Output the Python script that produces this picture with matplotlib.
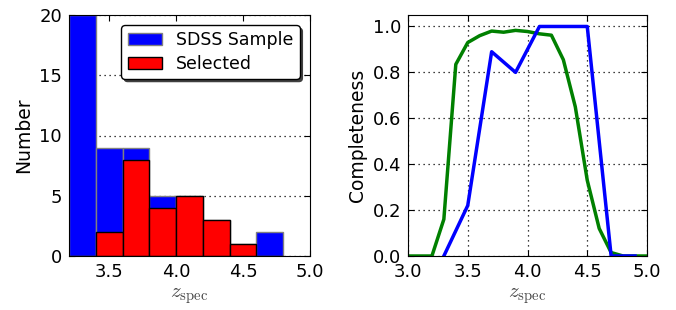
import matplotlib
matplotlib.use("Agg")
import matplotlib.pyplot as plt
import numpy as np

plt.rcParams['mathtext.fontset'] = 'cm'
plt.rcParams['font.size'] = 12
plt.rcParams['xtick.direction'] = 'in'
plt.rcParams['ytick.direction'] = 'in'
plt.rcParams['xtick.top'] = True
plt.rcParams['ytick.right'] = True

# histogram data
bin_edges = [3.2, 3.4, 3.6, 3.8, 4.0, 4.2, 4.4, 4.6, 4.8]
sdss_counts = [20, 9, 9, 5, 5, 3, 1, 2]
selected_counts = [0, 2, 8, 4, 5, 3, 1, 0]

# completeness curves
z_sample = [3.3, 3.5, 3.7, 3.9, 4.1, 4.3, 4.5, 4.7, 4.9]
comp_sample = [0.0, 0.22, 0.89, 0.80, 1.0, 1.0, 1.0, 0.0, 0.0]

z_model = [3.0, 3.1, 3.2, 3.3, 3.4, 3.5, 3.6, 3.7, 3.8, 3.9, 4.0,
           4.1, 4.2, 4.3, 4.4, 4.5, 4.6, 4.7, 4.8, 4.9, 5.0]
comp_model = [0.0, 0.0, 0.0, 0.16, 0.835, 0.93, 0.96, 0.98, 0.975, 0.983, 0.978,
              0.968, 0.962, 0.855, 0.65, 0.33, 0.12, 0.015, 0.0, 0.0, 0.0]

fig = plt.figure(figsize=(6.76, 3.10), dpi=100)
ax1 = fig.add_axes([69/676, 54/310, 241/676, 241/310])
ax2 = fig.add_axes([408/676, 54/310, 239/676, 241/310])

left = np.array(bin_edges[:-1])
width = np.diff(bin_edges)
ax1.bar(left, sdss_counts, width=width, align='edge', color='blue',
        edgecolor='gray', linewidth=1, label='SDSS Sample')
ax1.bar(left, selected_counts, width=width, align='edge', color='red',
        edgecolor='black', linewidth=1, label='Selected')
ax1.set_xlim(3.2, 5.0)
ax1.set_ylim(0, 20)
ax1.set_xticks([3.5, 4.0, 4.5, 5.0])
ax1.set_yticks([0, 5, 10, 15, 20])
ax1.yaxis.grid(True, linestyle=(0, (1, 3)), color='black', linewidth=0.9)
ax1.set_axisbelow(True)
ax1.set_ylabel('Number', fontsize=13.5)
ax1.set_xlabel(r'$z_{\rm spec}$', fontsize=15, color='#444444')
leg = ax1.legend(loc='upper right', fancybox=True,
                 shadow={'color': '0.25', 'alpha': 1.0}, framealpha=1,
                 edgecolor='black', fontsize=12.5, borderpad=0.35,
                 handlelength=2.0, labelspacing=0.3, borderaxespad=0.6)
leg.get_frame().set_linewidth(1.0)

ax2.plot(z_model, comp_model, color='green', linewidth=2.5)
ax2.plot(z_sample, comp_sample, color='blue', linewidth=2.5)
ax2.set_xlim(3.0, 5.0)
ax2.set_ylim(0, 1.05)
ax2.set_xticks([3.0, 3.5, 4.0, 4.5, 5.0])
ax2.set_yticks([0.0, 0.2, 0.4, 0.6, 0.8, 1.0])
ax2.grid(True, linestyle=(0, (1, 3)), color='black', linewidth=0.9)
ax2.set_ylabel('Completeness', fontsize=13.5)
ax2.set_xlabel(r'$z_{\rm spec}$', fontsize=15, color='#444444')

for ax in (ax1, ax2):
    ax.tick_params(labelsize=13, length=4, pad=5)

fig.savefig('out.png', dpi=100)
